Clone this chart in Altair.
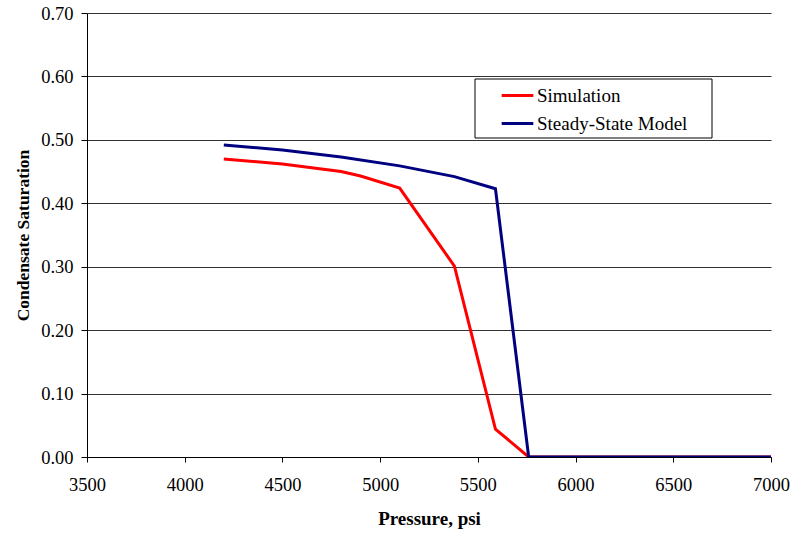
import altair as alt
import pandas as pd

sim_p = [4200, 4500, 4800, 4900, 5100, 5380, 5590, 5760, 7000]
sim_s = [0.470, 0.462, 0.450, 0.443, 0.424, 0.301, 0.044, 0.0, 0.0]
ssm_p = [4200, 4500, 4800, 5100, 5380, 5590, 5760, 7000]
ssm_s = [0.492, 0.484, 0.473, 0.459, 0.442, 0.423, 0.0, 0.0]

series = ["Simulation", "Steady-State Model"]
colors = ["#FF0000", "#000080"]

df = pd.DataFrame(
    [{"p": p, "s": s, "series": series[0], "o": i} for i, (p, s) in enumerate(zip(sim_p, sim_s))]
    + [{"p": p, "s": s, "series": series[1], "o": i} for i, (p, s) in enumerate(zip(ssm_p, ssm_s))]
)

FONT = "Liberation Serif"

lines = alt.Chart(df).mark_line(strokeWidth=3, clip=True).encode(
    x=alt.X("p:Q", scale=alt.Scale(domain=[3500, 7000], nice=False, zero=False),
            axis=alt.Axis(values=list(range(3500, 7001, 500)), title="Pressure, psi",
                          grid=False, format="d", tickSize=5, labelPadding=13, labelFlush=False,
                          labelOverlap=False,
                          titleFontSize=19, titleY=67, titleBaseline="alphabetic")),
    y=alt.Y("s:Q", scale=alt.Scale(domain=[0, 0.7], nice=False),
            axis=alt.Axis(values=[i / 10 for i in range(8)], format=".2f",
                          title="Condensate Saturation", grid=True, tickSize=6, labelPadding=8,
                          labelFlush=False, labelOverlap=False,
                          titleFontSize=17.5, titleX=-59, titleBaseline="alphabetic")),
    color=alt.Color("series:N", scale=alt.Scale(domain=series, range=colors),
                    legend=alt.Legend(orient="none", legendX=413, legendY=65, title=None,
                                      symbolType="stroke", symbolStrokeWidth=3, symbolSize=1000,
                                      labelFont=FONT, labelFontSize=19, labelColor="black",
                                      rowPadding=-4, padding=0, labelOffset=2)),
    order="o:Q",
)

box = alt.Chart(pd.DataFrame({"a": [0]})).mark_rect(fill="white", stroke="black", strokeWidth=1).encode(
    x=alt.value(388), x2=alt.value(625), y=alt.value(66), y2=alt.value(125)
)

chart = alt.layer(lines, box).properties(
    width=684, height=444,
    padding={"left": 87, "top": 13, "right": 20, "bottom": 77},
    autosize=alt.AutoSizeParams(type="none"),
    background="white",
).configure_view(stroke=None).configure_axis(
    labelFont=FONT, labelFontSize=18.5, labelColor="black",
    titleFont=FONT, titleFontWeight="bold", titleColor="black",
    domainColor="black", domainWidth=1, tickColor="black",
    gridColor="#333333", gridWidth=1,
)

chart.save("out.html", embed_options={"renderer": "svg", "actions": False})
